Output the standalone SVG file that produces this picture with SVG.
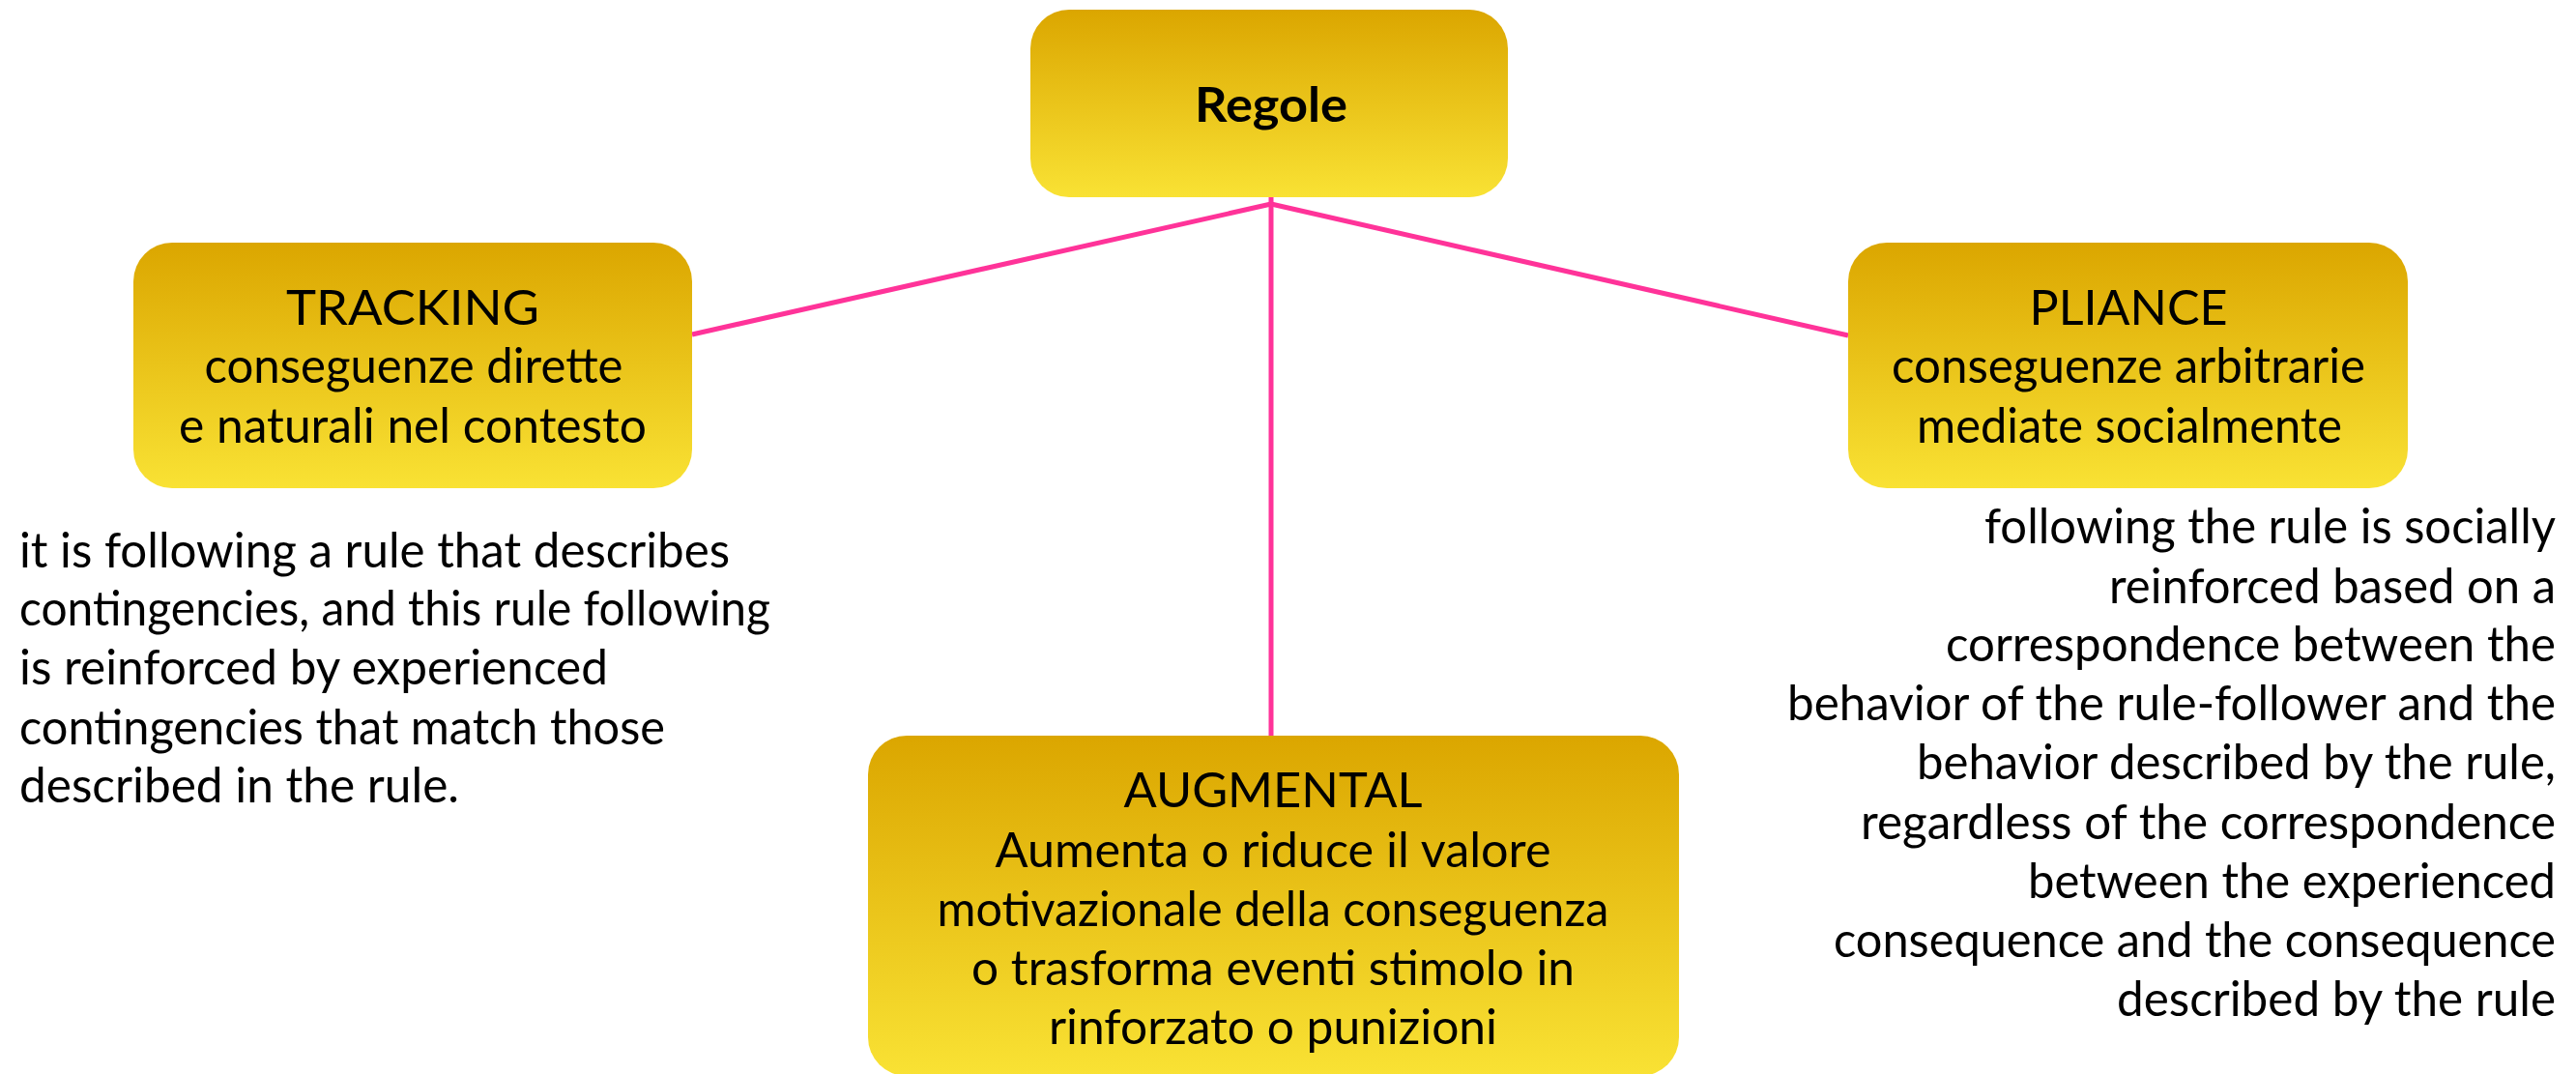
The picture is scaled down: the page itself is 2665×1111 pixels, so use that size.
<svg xmlns="http://www.w3.org/2000/svg" width="2665" height="1111" viewBox="0 0 2665 1111">
<style>
.box{fill:url(#gold);}
.t{font-family:Lato,"Open Sans","Liberation Sans",sans-serif;font-size:50px;fill:#000;}
.c{text-anchor:middle;}
.b{font-weight:bold;}
.link{stroke:#FF3399;stroke-width:5;fill:none;}
</style>
<defs>
<linearGradient id="gold" x1="0" y1="0" x2="0" y2="1">
<stop offset="0" stop-color="#DBA600"/>
<stop offset="1" stop-color="#F9E234"/>
</linearGradient>
</defs>
<rect width="2665" height="1111" fill="#fff"/>
<g id="connectors">
<line class="link" x1="1315" y1="211" x2="716" y2="346"/>
<line class="link" x1="1315" y1="211" x2="1912" y2="347"/>
<line class="link" x1="1315" y1="204" x2="1315" y2="761"/>
</g>
<g id="regole">
<rect class="box" x="1066" y="10" width="494" height="194" rx="40"/>
<text class="t c b" x="1315" y="126" textLength="158" lengthAdjust="spacingAndGlyphs">Regole</text>
</g>
<g id="tracking">
<rect class="box" x="138" y="251" width="578" height="254" rx="40"/>
<text class="t c" x="427" y="336" textLength="262" lengthAdjust="spacingAndGlyphs">TRACKING</text>
<text class="t c" x="428" y="396" textLength="433" lengthAdjust="spacingAndGlyphs">conseguenze dirette</text>
<text class="t c" x="427" y="458" textLength="484" lengthAdjust="spacingAndGlyphs">e naturali nel contesto</text>
</g>
<g id="pliance">
<rect class="box" x="1912" y="251" width="579" height="254" rx="40"/>
<text class="t c" x="2202" y="336" textLength="205" lengthAdjust="spacingAndGlyphs">PLIANCE</text>
<text class="t c" x="2202" y="396" textLength="490" lengthAdjust="spacingAndGlyphs">conseguenze arbitrarie</text>
<text class="t c" x="2203" y="458" textLength="440" lengthAdjust="spacingAndGlyphs">mediate socialmente</text>
</g>
<g id="augmental">
<rect class="box" x="898" y="761" width="839" height="352" rx="40"/>
<text class="t c" x="1317" y="835" textLength="309" lengthAdjust="spacingAndGlyphs">AUGMENTAL</text>
<text class="t c" x="1317" y="897" textLength="575" lengthAdjust="spacingAndGlyphs">Aumenta o riduce il valore</text>
<text class="t c" x="1317" y="958" textLength="695" lengthAdjust="spacingAndGlyphs">motivazionale della conseguenza</text>
<text class="t c" x="1317" y="1019" textLength="624" lengthAdjust="spacingAndGlyphs">o trasforma eventi stimolo in</text>
<text class="t c" x="1317" y="1080" textLength="464" lengthAdjust="spacingAndGlyphs">rinforzato o punizioni</text>
</g>
<g id="tracking-desc">
<text class="t" x="20" y="587" textLength="735" lengthAdjust="spacingAndGlyphs">it is following a rule that describes</text>
<text class="t" x="20" y="647" textLength="777" lengthAdjust="spacingAndGlyphs">contingencies, and this rule following</text>
<text class="t" x="20" y="708" textLength="609" lengthAdjust="spacingAndGlyphs">is reinforced by experienced</text>
<text class="t" x="20" y="770" textLength="668" lengthAdjust="spacingAndGlyphs">contingencies that match those</text>
<text class="t" x="20" y="830" textLength="455" lengthAdjust="spacingAndGlyphs">described in the rule.</text>
</g>
<g id="pliance-desc">
<text class="t" x="2053" y="562" textLength="591" lengthAdjust="spacingAndGlyphs">following the rule is socially</text>
<text class="t" x="2182" y="624" textLength="462" lengthAdjust="spacingAndGlyphs">reinforced based on a</text>
<text class="t" x="2013" y="684" textLength="631" lengthAdjust="spacingAndGlyphs">correspondence between the</text>
<text class="t" x="1849" y="745" textLength="795" lengthAdjust="spacingAndGlyphs">behavior of the rule-follower and the</text>
<text class="t" x="1983" y="806" textLength="661" lengthAdjust="spacingAndGlyphs">behavior described by the rule,</text>
<text class="t" x="1925" y="868" textLength="719" lengthAdjust="spacingAndGlyphs">regardless of the correspondence</text>
<text class="t" x="2098" y="929" textLength="546" lengthAdjust="spacingAndGlyphs">between the experienced</text>
<text class="t" x="1897" y="990" textLength="747" lengthAdjust="spacingAndGlyphs">consequence and the consequence</text>
<text class="t" x="2190" y="1051" textLength="454" lengthAdjust="spacingAndGlyphs">described by the rule</text>
</g>
</svg>
